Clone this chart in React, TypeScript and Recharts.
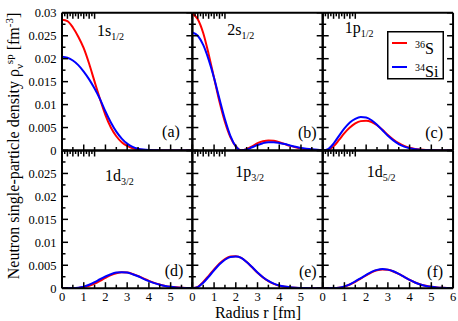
import { LineChart, Line, XAxis, YAxis, Legend } from "recharts";

const radius = [0, 0.25, 0.5, 0.75, 1, 1.25, 1.5, 1.75, 2, 2.25, 2.5, 2.75, 3, 3.25, 3.5, 3.75, 4, 4.25, 4.5, 4.75, 5, 5.25, 5.5, 5.75, 6];

// 36S (red)
const s36_1s12 = [0.0285, 0.0282, 0.0268, 0.0248, 0.0223, 0.0189, 0.015, 0.0112, 0.0077, 0.005, 0.0031, 0.0018, 0.001, 0.0005, 0.00025, 0.0001, 0.00005, 0.00002, 0.00001, 0, 0, 0, 0, 0, 0];
const s36_2s12 = [0.0298, 0.0286, 0.0256, 0.021, 0.0158, 0.0106, 0.0062, 0.0029, 0.0009, 0.00005, 0.0003, 0.0009, 0.0016, 0.002, 0.0022, 0.0021, 0.0018, 0.0014, 0.001, 0.0007, 0.00045, 0.00028, 0.00017, 0.0001, 0.00006];
const s36_1p12 = [0, 0.00015, 0.0009, 0.0023, 0.0038, 0.005, 0.0059, 0.0064, 0.0065, 0.0062, 0.0055, 0.0045, 0.0034, 0.0024, 0.0016, 0.001, 0.0006, 0.00035, 0.0002, 0.0001, 0.00006, 0.00003, 0.000015, 0.000007, 0];
const s36_1d32 = [0, 0, 0.00001, 0.00007, 0.00025, 0.00055, 0.001, 0.0016, 0.00225, 0.00285, 0.00325, 0.00345, 0.0034, 0.0031, 0.00265, 0.00215, 0.0016, 0.00115, 0.0008, 0.0005, 0.00032, 0.0002, 0.00011, 0.00006, 0.00003];
const s36_1p32 = [0, 0.0003, 0.00135, 0.0027, 0.0041, 0.0054, 0.00635, 0.0069, 0.00695, 0.0066, 0.0057, 0.00455, 0.00335, 0.00235, 0.00155, 0.00095, 0.00055, 0.00032, 0.00018, 0.00009, 0.00004, 0.00002, 0.00001, 0.000005, 0];
const s36_1d52 = [0, 0, 0.00001, 0.0001, 0.00035, 0.0008, 0.0014, 0.0021, 0.0028, 0.00345, 0.0039, 0.0041, 0.004, 0.00365, 0.0031, 0.00245, 0.0018, 0.00125, 0.00082, 0.00052, 0.00032, 0.00018, 0.0001, 0.00005, 0.000025];

// 34Si (blue)
const si34_1s12 = [0.0204, 0.0202, 0.0196, 0.0186, 0.0172, 0.0155, 0.0135, 0.0112, 0.0085, 0.0061, 0.0041, 0.0026, 0.0015, 0.0008, 0.0004, 0.0002, 0.0001, 0.00005, 0.00002, 0.00001, 0, 0, 0, 0, 0];
const si34_2s12 = [0.0257, 0.025, 0.023, 0.0198, 0.0158, 0.0112, 0.0068, 0.0032, 0.0009, 0.00002, 0.0002, 0.0007, 0.0012, 0.0016, 0.0018, 0.0018, 0.00165, 0.0014, 0.0011, 0.0008, 0.00055, 0.00038, 0.00025, 0.00016, 0.0001];
const si34_1p12 = [0, 0.0003, 0.0015, 0.0032, 0.0048, 0.0061, 0.0069, 0.0073, 0.0072, 0.0066, 0.0056, 0.0044, 0.0032, 0.0022, 0.0014, 0.00085, 0.0005, 0.00028, 0.00015, 0.00008, 0.00004, 0.00002, 0.00001, 0.000005, 0];
const si34_1d32 = [0, 0, 0.00002, 0.00012, 0.00035, 0.00075, 0.0013, 0.00195, 0.00255, 0.00305, 0.0034, 0.0035, 0.0034, 0.00305, 0.0026, 0.00205, 0.00155, 0.0011, 0.00075, 0.00048, 0.0003, 0.00018, 0.0001, 0.00005, 0.00003];
const si34_1p32 = [0, 0.00025, 0.0012, 0.0025, 0.0039, 0.0052, 0.0062, 0.0068, 0.0069, 0.0066, 0.0057, 0.0046, 0.0034, 0.0024, 0.0016, 0.001, 0.0006, 0.00035, 0.0002, 0.0001, 0.00005, 0.00002, 0.000012, 0.000005, 0];
const si34_1d52 = [0, 0, 0.00002, 0.00012, 0.0004, 0.00085, 0.0015, 0.0022, 0.0029, 0.00355, 0.004, 0.0042, 0.00405, 0.0037, 0.0031, 0.00245, 0.0018, 0.00125, 0.0008, 0.0005, 0.0003, 0.00017, 0.00009, 0.00005, 0.00002];

const orbitals = ["1s", "2s", "1p", "1d", "1p", "1d"];
const orbitalJ = ["1/2", "1/2", "1/2", "3/2", "3/2", "5/2"];
const panelTags = ["(a)", "(b)", "(c)", "(d)", "(e)", "(f)"];
const isotopeKeys = ["s36", "si34"];
const isotopeMass = ["36", "34"];
const isotopeSym = ["S", "Si"];

const xMajor = [0, 1, 2, 3, 4, 5, 6];
const xTickLabels = ["0", "1", "2", "3", "4", "5", "6"];
const yMajor = [0, 0.005, 0.01, 0.015, 0.02, 0.025, 0.03];
const yTickLabels = ["0", "0.005", "0.01", "0.015", "0.02", "0.025", "0.03"];

const redSets = [s36_1s12, s36_2s12, s36_1p12, s36_1d32, s36_1p32, s36_1d52];
const blueSets = [si34_1s12, si34_2s12, si34_1p12, si34_1d32, si34_1p32, si34_1d52];

const FONT = "'Liberation Serif', 'Times New Roman', serif";
const CW = 458;
const CH = 321;
const L = 62;
const T = 12.8;
const W = 130.35;
const H = 137.7;
const AX = 1; // thickness reserved by each axis box

// label offsets inside each panel
const labelPos = [[35, 23], [35, 22], [22, 20.5], [43, 30.7], [43, 26], [44, 26]];
const tagPos = [[12.5, 13.5], [6, 12.5], [10, 12.5], [9, 12], [6, 11.5], [10, 11.5]];

const withMid = (arr: number[]) =>
  arr.flatMap((m, i) => (i < arr.length - 1 ? [m, (m + arr[i + 1]) / 2] : [m]));
const xTicks = withMid(xMajor);
const yTicks = withMid(yMajor);
const findMajor = (v: number, list: number[]) => list.findIndex((m) => Math.abs(m - v) < 1e-9);

function xTick(side: "bottom" | "top", showLabels: boolean, lastLabel: number) {
  return (p: any) => {
    const v = p.payload.value;
    const idx = findMajor(v, xMajor);
    const len = idx >= 0 ? 6 : 3.5;
    const dir = side === "bottom" ? -1 : 1;
    return (
      <g>
        <line x1={p.x} y1={p.y} x2={p.x} y2={p.y + dir * len} stroke="#000" strokeWidth={1.5} />
        {showLabels && idx >= 0 && idx <= lastLabel && (
          <text x={p.x} y={p.y + 13} textAnchor="middle" fontSize={12.5} fontFamily={FONT} fill="#000">
            {xTickLabels[idx]}
          </text>
        )}
      </g>
    );
  };
}

function yTick(side: "left" | "right", showLabels: boolean, lastLabel: number) {
  return (p: any) => {
    const v = p.payload.value;
    const idx = findMajor(v, yMajor);
    const len = idx >= 0 ? 6 : 3.5;
    const dir = side === "left" ? 1 : -1;
    return (
      <g>
        <line x1={p.x} y1={p.y} x2={p.x + dir * len} y2={p.y} stroke="#000" strokeWidth={1.5} />
        {showLabels && idx >= 0 && idx <= lastLabel && (
          <text x={p.x - 5.5} y={p.y + 4.5} textAnchor="end" fontSize={12.5} fontFamily={FONT} fill="#000">
            {yTickLabels[idx]}
          </text>
        )}
      </g>
    );
  };
}

const renderLegend = (props: any) => {
  const items = [...(props.payload || [])].sort(
    (a: any, b: any) => isotopeKeys.indexOf(a.dataKey) - isotopeKeys.indexOf(b.dataKey)
  );
  return (
    <svg width={57} height={49} style={{ display: "block" }}>
      <rect x={0.75} y={0.75} width={55.5} height={47} fill="#fff" stroke="#000" strokeWidth={1.5} />
      {items.map((it: any, i: number) => {
        const k = isotopeKeys.indexOf(it.dataKey);
        return (
          <g key={i}>
            <line x1={5} x2={20} y1={12 + i * 24} y2={12 + i * 24} stroke={it.color} strokeWidth={2} />
            <text x={28} y={22.5 + i * 23.5} fontFamily={FONT} fill="#000" fontSize={16}>
              <tspan fontSize={10} dy={-6}>{isotopeMass[k]}</tspan>
              <tspan dy={6}>{isotopeSym[k]}</tspan>
            </text>
          </g>
        );
      })}
    </svg>
  );
};

function Panel({ i }: { i: number }) {
  const col = i % 3;
  const row = Math.floor(i / 3);
  const left = L + col * W;
  const top = T + row * H;
  const data = radius.map((r, k) => ({ r, s36: redSets[i][k], si34: blueSets[i][k] }));
  const axisLine = { stroke: "#000", strokeWidth: 2 };
  return (
    <div style={{ position: "absolute", left: 0, top: 0 }}>
      <LineChart
        width={CW}
        height={CH}
        data={data}
        margin={{ left: left - AX, top: top - AX, right: CW - left - W - AX, bottom: CH - top - H - AX }}
      >
        <XAxis
          dataKey="r"
          type="number"
          domain={[0, 6]}
          allowDataOverflow
          ticks={xTicks}
          interval={0}
          height={AX}
          tickSize={0}
          tickMargin={0}
          tickLine={false}
          axisLine={axisLine}
          tick={xTick("bottom", row === 1, col === 2 ? 6 : 5)}
        />
        <XAxis
          xAxisId="top"
          orientation="top"
          type="number"
          domain={[0, 6]}
          allowDataOverflow
          ticks={xTicks}
          interval={0}
          height={AX}
          tickSize={0}
          tickMargin={0}
          tickLine={false}
          axisLine={axisLine}
          tick={xTick("top", false, 0)}
        />
        <YAxis
          type="number"
          domain={[0, 0.03]}
          allowDataOverflow
          ticks={yTicks}
          interval={0}
          width={AX}
          tickSize={0}
          tickMargin={0}
          tickLine={false}
          axisLine={axisLine}
          tick={yTick("left", col === 0, row === 0 ? 6 : 5)}
        />
        <YAxis
          yAxisId="right"
          orientation="right"
          type="number"
          domain={[0, 0.03]}
          allowDataOverflow
          ticks={yTicks}
          interval={0}
          width={AX}
          tickSize={0}
          tickMargin={0}
          tickLine={false}
          axisLine={axisLine}
          tick={yTick("right", false, 0)}
        />
        <Line type="monotone" dataKey="s36" name="36S" stroke="#ff0000" strokeWidth={2} dot={false} isAnimationActive={false} />
        <Line type="monotone" dataKey="si34" name="34Si" stroke="#0000ff" strokeWidth={2} dot={false} isAnimationActive={false} />
        {i === 2 && (
          <Legend
            content={renderLegend}
            layout="horizontal"
            verticalAlign="middle"
            align="center"
            wrapperStyle={{ left: 387, top: 30.5, width: 57, height: 49 }}
          />
        )}
        <text x={left + labelPos[i][0]} y={top + labelPos[i][1]} fontFamily={FONT} fontSize={16} fill="#000">
          {orbitals[i]}
          <tspan fontSize={10} dy={4}>{orbitalJ[i]}</tspan>
        </text>
        <text
          x={left + W - tagPos[i][0]}
          y={top + H - tagPos[i][1]}
          textAnchor="end"
          fontFamily={FONT}
          fontSize={16}
          fill="#000"
        >
          {panelTags[i]}
        </text>
        {i === 0 && (
          <g fontFamily={FONT} fill="#000" style={{ whiteSpace: "pre" }}>
            <text x={258} y={317.5} textAnchor="middle" fontSize={16}>
              {"Radius  r  [fm]"}
            </text>
            <text x={19} y={146} textAnchor="middle" fontSize={16} transform="rotate(-90 19 146)">
              {"Neutron  single-particle  density  ρ"}
              <tspan fontSize={11} dy={4}>ν</tspan>
              <tspan fontSize={11} dy={-10}>sp</tspan>
              <tspan dy={6}>{"  [fm"}</tspan>
              <tspan fontSize={11} dy={-6}>-3</tspan>
              <tspan dy={6}>]</tspan>
            </text>
          </g>
        )}
      </LineChart>
    </div>
  );
}

export default function App() {
  return (
    <div style={{ position: "absolute", left: 0, top: 0, width: CW, height: CH, background: "#fff" }}>
      {[0, 1, 2, 3, 4, 5].map((i) => (
        <Panel key={i} i={i} />
      ))}
    </div>
  );
}
